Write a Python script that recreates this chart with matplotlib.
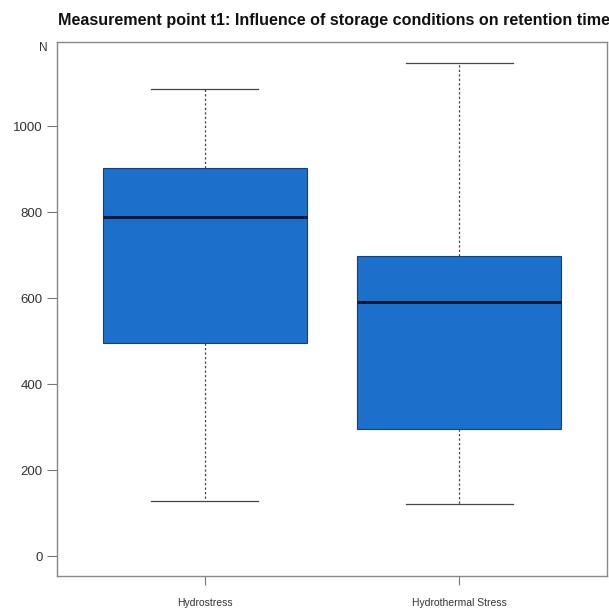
import matplotlib.pyplot as plt

plt.rcParams['font.family'] = ['Liberation Sans', 'DejaVu Sans']

# summary statistics per storage condition
groups = ['Hydrostress', 'Hydrothermal Stress']
whisker_low = [128, 121]
q1 = [497, 297]
median = [789, 592]
q3 = [903, 698]
whisker_high = [1086, 1148]

stats = []
for i, name in enumerate(groups):
    stats.append({
        'label': name,
        'whislo': whisker_low[i], 'q1': q1[i], 'med': median[i],
        'q3': q3[i], 'whishi': whisker_high[i], 'fliers': [],
    })

fig = plt.figure(figsize=(6.09, 6.12), dpi=100)
ax = fig.add_axes([0.0936, 0.0588, 0.903, 0.8726])

edge = '#444444'
ax.bxp(
    stats, positions=[1, 2], widths=0.8, patch_artist=True,
    showfliers=False,
    boxprops=dict(facecolor='#1c70cc', edgecolor='#1a3f6e', linewidth=0.8),
    medianprops=dict(color='#061a3a', linewidth=2.2),
    whiskerprops=dict(color=edge, linewidth=0.9, linestyle=(0, (1.8, 1.8))),
    capprops=dict(color=edge, linewidth=0.9),
    capwidths=0.42,
)

ax.set_xlim(0.42, 2.58)
ax.set_ylim(-46, 1196)
ax.set_yticks([0, 200, 400, 600, 800, 1000])
ax.set_xticks([1, 2])
ax.set_xticklabels(groups, fontsize=7.5, color='#333333')
ax.tick_params(axis='y', labelsize=9.5, colors='#333333', length=7,
               width=0.8, pad=3.5, color='#777777')
ax.tick_params(axis='x', length=6.5, width=0.8, pad=9, color='#777777')

for side in ax.spines.values():
    side.set_color('#888888')
    side.set_linewidth(1.0)

fig.text(0.0952, 0.967, 'Measurement point t1: Influence of storage conditions on retention time',
         fontsize=11.6, fontweight='bold', ha='left', va='center', color='#111111')
fig.text(0.0706, 0.9216, 'N', fontsize=8.5, ha='center', va='center', color='#333333')

fig.savefig('out.png', dpi=100)
